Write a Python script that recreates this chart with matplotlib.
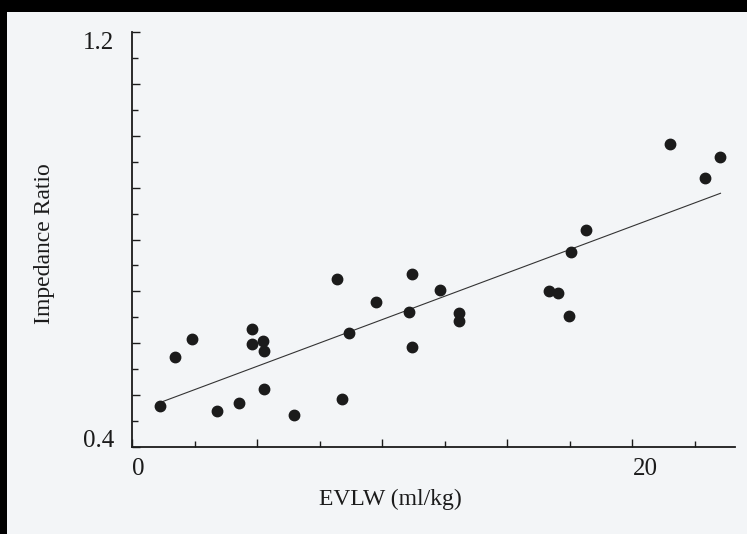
import numpy as np
import matplotlib
matplotlib.use("Agg")
import matplotlib.pyplot as plt
from matplotlib.patches import Rectangle
from matplotlib.ticker import FixedLocator

# Extravascular lung water vs. impedance ratio
evlw = [1.12, 1.71, 2.40, 3.39, 4.29, 4.80, 4.80, 5.23, 5.28, 5.28,
        6.49, 8.19, 8.39, 8.68, 9.77, 11.19, 11.07, 11.19, 12.30, 13.07,
        13.07, 16.65, 17.01, 17.48, 17.55, 18.16, 21.52, 22.92, 23.52]
ratio = [0.480, 0.573, 0.609, 0.470, 0.485, 0.627, 0.599, 0.605, 0.585, 0.511,
         0.462, 0.724, 0.493, 0.619, 0.679, 0.734, 0.661, 0.593, 0.703, 0.658,
         0.643, 0.701, 0.697, 0.652, 0.775, 0.819, 0.984, 0.919, 0.960]

x_ticks = [0, 5, 10, 15, 20]
x_tick_labels = ["0", "", "", "", "20"]
y_ticks = [0.4, 0.5, 0.6, 0.7, 0.8, 0.9, 1.0, 1.1, 1.2]
y_tick_labels = ["0.4", "", "", "", "", "", "", "", "1.2"]

plt.rcParams["font.family"] = ["Liberation Serif", "DejaVu Serif"]

paper = "#f3f5f7"
ink = "#1b1b1b"

fig = plt.figure(figsize=(7.47, 5.34), dpi=100)
fig.patch.set_facecolor(paper)

# dark scanner border along the top and left edges
fig.patches.append(Rectangle((0, 1 - 12 / 534), 1, 12 / 534, transform=fig.transFigure,
                             facecolor="black", edgecolor="none", zorder=10))
fig.patches.append(Rectangle((0, 0), 7 / 747, 1, transform=fig.transFigure,
                             facecolor="black", edgecolor="none", zorder=10))

ax = fig.add_axes([132 / 747, 1 - 447 / 534, (735 - 132) / 747, (447 - 32) / 534])
ax.set_facecolor("none")

x = np.array(evlw)
y = np.array(ratio)
slope, intercept = np.polyfit(x, y, 1)
xf = np.array([x.min(), x.max()])
ax.plot(xf, intercept + slope * xf, color="#333333", lw=0.8, zorder=2)

ax.plot(x, y, "o", ms=7.5, color=ink, mec=ink, zorder=3)

ax.set_xlim(0, 24.1)
ax.set_ylim(0.4, 1.2)

for side in ("top", "right"):
    ax.spines[side].set_visible(False)
for side in ("left", "bottom"):
    ax.spines[side].set_linewidth(1.3)
    ax.spines[side].set_color(ink)

ax.set_xticks(x_ticks, x_tick_labels)
ax.xaxis.set_minor_locator(FixedLocator([2.5, 7.5, 12.5, 17.5, 22.5]))
ax.set_yticks(y_ticks, y_tick_labels)
ax.yaxis.set_minor_locator(FixedLocator([0.45, 0.55, 0.65, 0.75, 0.85, 0.95, 1.05, 1.15]))

ax.tick_params(axis="both", which="major", direction="in", length=6, width=1.0,
               color=ink, labelsize=18, labelcolor=ink)
ax.tick_params(axis="both", which="minor", direction="in", length=4, width=1.0, color=ink)
ax.tick_params(axis="x", which="major", pad=8)
ax.tick_params(axis="y", which="major", pad=13)

for lbl in ax.get_xticklabels():
    lbl.set_horizontalalignment("left")
yt = ax.yaxis.get_major_ticks()
yt[0].label1.set_verticalalignment("baseline")
yt[-1].label1.set_verticalalignment("top")

ax.set_xlabel("EVLW (ml/kg)", fontsize=17, color=ink)
ax.xaxis.set_label_coords(0.428, -0.10)
ax.set_ylabel("Impedance Ratio", fontsize=17, color=ink)
ax.yaxis.set_label_coords(-0.128, 0.49)

fig.savefig("out.png", dpi=100, facecolor=fig.get_facecolor())
